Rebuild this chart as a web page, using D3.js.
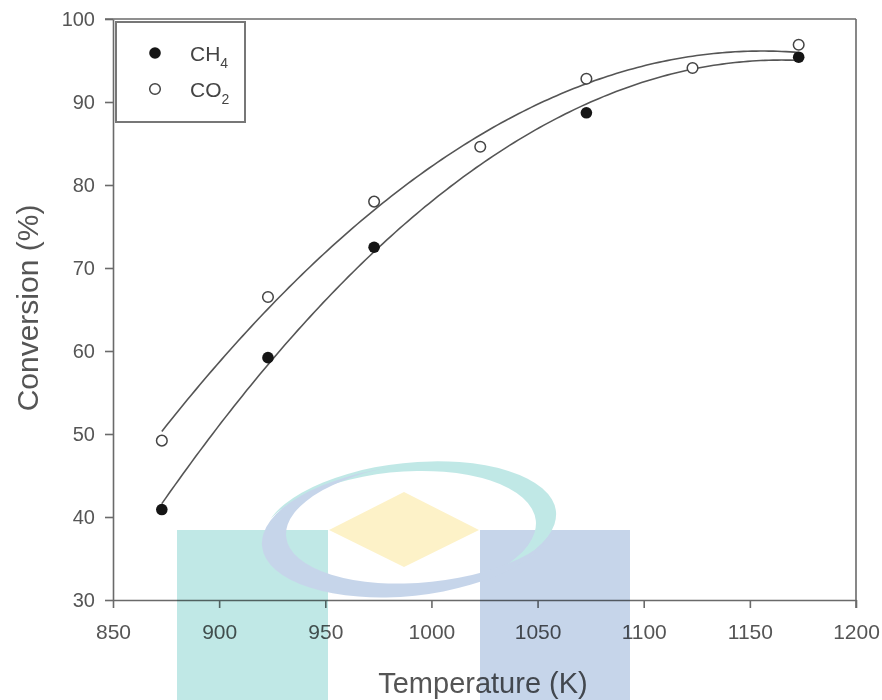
<!DOCTYPE html>
<html>
<head>
<meta charset="utf-8">
<script src="https://cdn.jsdelivr.net/npm/d3@7"></script>
<style>
  html, body { margin: 0; padding: 0; background: #fff; }
  svg { display: block; }
  text { font-family: "Liberation Sans", Arial, Helvetica, sans-serif; }
</style>
</head>
<body>
<svg id="chart" width="882" height="700"></svg>
<script>
// ---- data ----
const ch4Temp = [873, 923, 973, 1073, 1173];
const ch4Conv = [40.9, 59.2, 72.5, 88.7, 95.4];
const co2Temp = [873, 923, 973, 1023, 1073, 1123, 1173];
const co2Conv = [49.2, 66.5, 78.0, 84.6, 92.8, 94.1, 96.9];
const xTicks = [850, 900, 950, 1000, 1050, 1100, 1150, 1200];
const yTicks = [30, 40, 50, 60, 70, 80, 90, 100];
const seriesNames = ["CH", "CO"];
const seriesSubs = ["4", "2"];

const svg = d3.select("#chart");
const L = 113, R = 856, T = 19, B = 600;
const x = d3.scaleLinear().domain([850, 1200]).range([L, R]);
const y = d3.scaleLinear().domain([30, 100]).range([B, T]);
const axisColor = "#6a6a6a", labelColor = "#555";

// quadratic least squares fit (regression line as in the original plot)
function quadFit(xs, ys) {
  const m = d3.mean(xs);
  let S = [0,0,0,0,0], Sy = [0,0,0];
  xs.forEach((xv, i) => {
    const t = (xv - m) / 50;
    for (let k = 0; k < 5; k++) S[k] += Math.pow(t, k);
    for (let k = 0; k < 3; k++) Sy[k] += Math.pow(t, k) * ys[i];
  });
  const A = [[S[0],S[1],S[2]],[S[1],S[2],S[3]],[S[2],S[3],S[4]]];
  const b = Sy.slice();
  for (let i = 0; i < 3; i++) {
    for (let j = i + 1; j < 3; j++) {
      const f = A[j][i] / A[i][i];
      for (let k = i; k < 3; k++) A[j][k] -= f * A[i][k];
      b[j] -= f * b[i];
    }
  }
  const c = [0,0,0];
  for (let i = 2; i >= 0; i--) {
    let s = b[i];
    for (let k = i + 1; k < 3; k++) s -= A[i][k] * c[k];
    c[i] = s / A[i][i];
  }
  return xv => { const t = (xv - m) / 50; return c[0] + c[1]*t + c[2]*t*t; };
}

const line = d3.line().x(d => x(d[0])).y(d => y(d[1])).curve(d3.curveLinear);
function fitPath(xs, ys) {
  const f = quadFit(xs, ys);
  const pts = d3.range(d3.min(xs), d3.max(xs) + 0.5, 2).map(v => [v, f(v)]);
  return line(pts);
}

// ---- axes ----
const gx = svg.append("g").attr("transform", `translate(0,${B})`)
  .call(d3.axisBottom(x).tickValues(xTicks).tickFormat(d3.format("d"))
    .tickSize(8).tickSizeOuter(0).tickPadding(16));
const gy = svg.append("g").attr("transform", `translate(${L},0)`)
  .call(d3.axisLeft(y).tickValues(yTicks).tickFormat(d3.format("d"))
    .tickSize(8).tickSizeOuter(0).tickPadding(10));
[gx, gy].forEach(g => {
  g.select(".domain").attr("stroke", axisColor).attr("stroke-width", 1.6);
  g.selectAll(".tick line").attr("stroke", axisColor).attr("stroke-width", 1.6);
  g.selectAll(".tick text").attr("fill", labelColor)
    .style("font-family", "'Liberation Sans', Arial, sans-serif");
});
gx.selectAll(".tick text").style("font-size", "21px");
gy.selectAll(".tick text").style("font-size", "20px");
// top and right frame
svg.append("line").attr("x1", L - 8).attr("x2", R).attr("y1", T).attr("y2", T)
  .attr("stroke", axisColor).attr("stroke-width", 1.6);
svg.append("line").attr("x1", R).attr("x2", R).attr("y1", T).attr("y2", B + 8)
  .attr("stroke", axisColor).attr("stroke-width", 1.6);

// titles
svg.append("text").attr("x", 483).attr("y", 693).attr("text-anchor", "middle")
  .attr("fill", labelColor).style("font-size", "29px").text("Temperature (K)");
svg.append("text").attr("transform", "translate(38,308) rotate(-90)")
  .attr("text-anchor", "middle").attr("fill", labelColor).style("font-size", "30px")
  .text("Conversion (%)");

// ---- fitted curves ----
svg.append("path").attr("d", fitPath(co2Temp, co2Conv)).attr("fill", "none")
  .attr("stroke", "#555").attr("stroke-width", 1.6);
svg.append("path").attr("d", fitPath(ch4Temp, ch4Conv)).attr("fill", "none")
  .attr("stroke", "#555").attr("stroke-width", 1.6);

// ---- points ----
svg.append("g").selectAll("circle").data(co2Temp.map((t, i) => [t, co2Conv[i]]))
  .join("circle").attr("cx", d => x(d[0])).attr("cy", d => y(d[1])).attr("r", 5.3)
  .attr("fill", "#fff").attr("stroke", "#444").attr("stroke-width", 1.5);
svg.append("g").selectAll("circle").data(ch4Temp.map((t, i) => [t, ch4Conv[i]]))
  .join("circle").attr("cx", d => x(d[0])).attr("cy", d => y(d[1])).attr("r", 5.8)
  .attr("fill", "#151515");

// ---- legend ----
const lg = svg.append("g");
lg.append("rect").attr("x", 116).attr("y", 22).attr("width", 129).attr("height", 100)
  .attr("fill", "#fff").attr("stroke", "#777").attr("stroke-width", 2);
const legY = [53, 89];
lg.append("circle").attr("cx", 155).attr("cy", legY[0]).attr("r", 5.8).attr("fill", "#151515");
lg.append("circle").attr("cx", 155).attr("cy", legY[1]).attr("r", 5.3)
  .attr("fill", "#fff").attr("stroke", "#444").attr("stroke-width", 1.5);
seriesNames.forEach((nm, i) => {
  const t = lg.append("text").attr("x", 190).attr("y", legY[i] + 8).attr("fill", "#444")
    .style("font-size", "21px");
  t.append("tspan").text(nm);
  t.append("tspan").attr("dy", 7).style("font-size", "14px").text(seriesSubs[i]);
});

// ---- watermark (decorative overlay) ----
const wm = svg.append("g").style("mix-blend-mode", "multiply");
const defs = svg.append("defs");
const m1 = defs.append("mask").attr("id", "mTeal");
m1.append("rect").attr("width", 882).attr("height", 700).attr("fill", "#000");
m1.append("ellipse").attr("cx", 410).attr("cy", 527).attr("rx", 147).attr("ry", 64).attr("fill", "#fff");
m1.append("ellipse").attr("cx", 396).attr("cy", 534).attr("rx", 140).attr("ry", 63).attr("fill", "#000");
const m2 = defs.append("mask").attr("id", "mBlue");
m2.append("rect").attr("width", 882).attr("height", 700).attr("fill", "#000");
m2.append("ellipse").attr("cx", 408).attr("cy", 531).attr("rx", 147).attr("ry", 65).attr("fill", "#fff");
m2.append("ellipse").attr("cx", 426).attr("cy", 524).attr("rx", 140).attr("ry", 60).attr("fill", "#000");

wm.append("rect").attr("x", 177).attr("y", 530).attr("width", 151).attr("height", 170).attr("fill", "#c0e8e6");
wm.append("rect").attr("x", 480).attr("y", 530).attr("width", 150).attr("height", 170).attr("fill", "#c6d5ea");
wm.append("path").attr("d", "M329,530 L404,492 L479,530 L404,567 Z").attr("fill", "#fdf2c8");
const rot = wm.append("g").attr("transform", "rotate(-6,408,529)");
rot.append("rect").attr("width", 882).attr("height", 700).attr("fill", "#c0e8e6").attr("mask", "url(#mTeal)");
rot.append("rect").attr("width", 882).attr("height", 700).attr("fill", "#c6d5ea").attr("mask", "url(#mBlue)");
</script>
</body>
</html>
